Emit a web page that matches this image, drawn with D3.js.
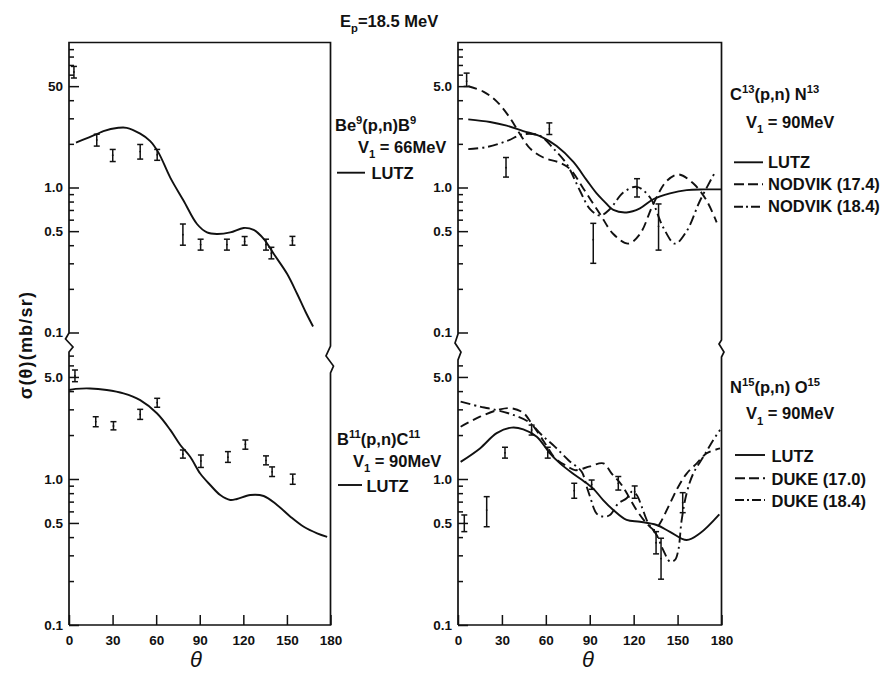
<!DOCTYPE html>
<html><head><meta charset="utf-8">
<script src="https://cdn.jsdelivr.net/npm/d3@7"></script>
<style>
body{margin:0;background:#fff}
svg{display:block}
text{font-family:"Liberation Sans",Arial,sans-serif;font-weight:bold;fill:#111}
</style>
</head><body>
<svg id="c" width="880" height="675"></svg>
<script>
// ---------------- DATA ----------------
const thetaTicks = [0, 30, 60, 90, 120, 150, 180];
const majorTickValues = [5, 1, 0.5, 0.1];
const tlTickLabels = ["50", "1.0", "0.5", "0.1"];
const stdTickLabels = ["5.0", "1.0", "0.5", "0.1"];
const minorTopValues = [0.2,0.3,0.4,0.6,0.7,0.8,0.9,2,3,4,6,7,8,9];
const minorBotLeftValues = [0.2,0.3,0.4,0.6,0.7,0.8,0.9,2,3,4,6,7];
const minorBotRightValues = [0.2,0.3,0.4,0.6,0.7,0.8,0.9,2,3,4,6];

// Be9(p,n)B9 data
const be9Theta = [3.4, 19.1, 30.1, 49, 60.7, 78.4, 90.6, 108.7, 120.9, 135.6, 139.3, 153.8];
const be9Value = [6.26, 2.13, 1.67, 1.77, 1.68, 0.473, 0.404, 0.404, 0.425, 0.404, 0.352, 0.43];
const be9Lo    = [5.69, 1.93, 1.51, 1.57, 1.54, 0.40, 0.37, 0.37, 0.40, 0.37, 0.322, 0.40];
const be9Hi    = [6.84, 2.33, 1.83, 1.98, 1.83, 0.56, 0.44, 0.44, 0.459, 0.44, 0.387, 0.46];
const be9LutzTheta = [4.8, 19.1, 23.7, 34, 39.7, 49, 55.9, 61.6, 69.7, 78.9, 88.1, 95, 101.8, 111, 120.2, 127.1, 134, 140.9, 150.1, 157, 162.8, 168];
const be9LutzValue = [2.04, 2.33, 2.45, 2.58, 2.58, 2.35, 2.09, 1.74, 1.17, 0.81, 0.56, 0.49, 0.478, 0.49, 0.526, 0.51, 0.443, 0.349, 0.254, 0.185, 0.139, 0.11];

// B11(p,n)C11 data
const b11Theta = [4.1, 18.4, 30.6, 49, 60.7, 78.4, 90.8, 109.4, 121.4, 135.6, 139.8, 154];
const b11Value = [5.08, 2.47, 2.31, 2.77, 3.33, 1.48, 1.33, 1.41, 1.73, 1.34, 1.12, 1.0];
const b11Lo    = [4.64, 2.28, 2.17, 2.56, 3.10, 1.39, 1.20, 1.30, 1.60, 1.25, 1.04, 0.92];
const b11Hi    = [5.58, 2.67, 2.47, 3.0, 3.57, 1.58, 1.46, 1.54, 1.85, 1.44, 1.21, 1.08];
const b11LutzTheta = [0, 4.6, 14.5, 26, 37.5, 49, 60.5, 69.7, 76.6, 83.4, 90.3, 97.2, 104.1, 111, 115.6, 124.8, 134, 143.2, 152.4, 161.6, 170.8, 177.7];
const b11LutzValue = [4.07, 4.14, 4.17, 4.07, 3.86, 3.47, 2.82, 2.17, 1.71, 1.42, 1.09, 0.91, 0.777, 0.718, 0.73, 0.777, 0.765, 0.664, 0.552, 0.471, 0.425, 0.402];

// C13(p,n)N13 data
const c13Theta = [5.9, 32.8, 62.4, 92.4, 122.3, 137.0];
const c13Value = [5.41, 1.37, 2.54, 0.436, 0.985, 0.54];
const c13Lo    = [4.98, 1.18, 2.32, 0.30, 0.86, 0.37];
const c13Hi    = [6.15, 1.61, 2.79, 0.566, 1.15, 0.77];
const c13LutzTheta = [7, 21.9, 33.3, 44.6, 56, 67.4, 78.8, 88, 94.7, 100, 106.1, 115.2, 124.3, 133.4, 144.8, 156.2, 167.6, 180];
const c13LutzValue = [2.95, 2.83, 2.67, 2.45, 2.26, 1.93, 1.50, 1.12, 0.91, 0.80, 0.70, 0.673, 0.718, 0.83, 0.91, 0.96, 0.97, 0.97];
const c13Nod174Theta = [7.0, 17.3, 26.4, 35.5, 42.4, 49.2, 58.3, 69.7, 76.5, 85.6, 97.0, 106.1, 116.3, 124.3, 133.4, 142.6, 150.5, 160.8, 169.9, 176.7];
const c13Nod174Value = [4.99, 4.59, 3.93, 3.02, 2.33, 1.86, 1.61, 1.48, 1.34, 0.985, 0.656, 0.478, 0.41, 0.478, 0.77, 1.11, 1.23, 1.065, 0.81, 0.575];
const c13Nod184Theta = [7.0, 19.6, 33.3, 44.6, 56.0, 65.1, 74.3, 83.3, 90.2, 97.0, 103.8, 112.9, 122.1, 131.2, 140.2, 148.2, 156.2, 165.3, 175.5];
const c13Nod184Value = [1.84, 1.90, 2.09, 2.33, 2.27, 1.86, 1.45, 0.95, 0.71, 0.64, 0.71, 0.924, 1.01, 0.853, 0.53, 0.41, 0.50, 0.81, 1.27];

// N15(p,n)O15 data
const n15Theta = [4.3, 19.6, 32.1, 50.3, 61.3, 79.4, 91.3, 109.5, 120.7, 135.3, 138.7, 153.5];
const n15Value = [0.497, 0.613, 1.51, 2.17, 1.51, 0.832, 0.92, 0.934, 0.818, 0.366, 0.285, 0.688];
const n15Lo    = [0.436, 0.471, 1.39, 2.0, 1.39, 0.738, 0.85, 0.84, 0.738, 0.307, 0.206, 0.588];
const n15Hi    = [0.567, 0.757, 1.65, 2.34, 1.65, 0.935, 0.984, 1.04, 0.896, 0.436, 0.393, 0.806];
const n15LutzTheta = [1.8, 15, 26.4, 36.7, 44.6, 53.8, 62.8, 69.7, 78, 87.9, 92.4, 99, 106.1, 115.2, 124.3, 135.7, 144.8, 156.2, 165.3, 178.5];
const n15LutzValue = [1.31, 1.62, 2.06, 2.25, 2.19, 1.95, 1.50, 1.28, 1.10, 0.934, 0.86, 0.72, 0.613, 0.524, 0.51, 0.484, 0.435, 0.382, 0.425, 0.573];
const n15Duke170Theta = [1.8, 15, 28.7, 36.7, 44.6, 50.3, 59.4, 66.3, 75.3, 79.9, 90.2, 99.3, 105, 111.8, 122.1, 128.9, 134.6, 138, 144.8, 150.5, 156.2, 163.1, 169.9, 179];
const n15Duke170Value = [2.28, 2.67, 3.0, 3.05, 2.84, 2.4, 1.76, 1.39, 1.21, 1.15, 1.22, 1.28, 1.09, 0.91, 0.61, 0.497, 0.447, 0.497, 0.68, 0.886, 1.09, 1.28, 1.50, 1.62];
const n15Duke184Theta = [1.8, 15.0, 20.7, 34.4, 48.0, 57.2, 66.3, 75.3, 84.5, 87.9, 90.2, 94.7, 99.3, 103.8, 109.5, 115.2, 118.7, 122.1, 125.5, 130, 135.7, 140.2, 144.8, 148.2, 150.5, 152.8, 156.2, 160.7, 167.6, 174.4, 179];
const n15Duke184Value = [3.39, 3.13, 3.05, 2.82, 2.47, 2.0, 1.66, 1.35, 1.12, 0.886, 0.757, 0.58, 0.552, 0.567, 0.68, 0.738, 0.818, 0.777, 0.646, 0.497, 0.414, 0.326, 0.272, 0.279, 0.326, 0.524, 0.80, 1.09, 1.42, 1.85, 2.17];

// ---------------- LAYOUT ----------------
const svg = d3.select('#c');
const xL = d3.scaleLinear().domain([0,180]).range([69,330.5]);
const xR = d3.scaleLinear().domain([0,180]).range([458,721.5]);
const yTop = d3.scaleLog().domain([0.1,10]).range([332.5,42.5]);
const yBot = d3.scaleLog().domain([0.1,10]).range([625,333]);
const FRAME_TOP = 42.5, FRAME_BOT = 625;

const styles = {
  solid: null,
  dash: "9,5",
  dashdot: "10,4,2,4"
};

function zip(a,b){ return a.map((d,i)=>[d,b[i]]); }

// frames with break marks
function frame(x0, x1, zl, zr){
  const left = [[x0,FRAME_BOT]].concat(zl.slice().reverse().map(p=>[x0+p[1],p[0]])).concat([[x0,FRAME_TOP]]);
  const right = [[x1,FRAME_TOP]].concat(zr.map(p=>[x1+p[1],p[0]])).concat([[x1,FRAME_BOT]]);
  const pts = left.concat(right).concat([[x0,FRAME_BOT]]);
  svg.append('path').attr('d', d3.line()(pts)).attr('fill','none').attr('stroke','#111').attr('stroke-width',1.7).attr('stroke-linejoin','miter');
}
frame(69, 330.5, [[333,0],[339,-3.5],[347,4],[352,0]], [[346,0],[356,-4.5],[366,3],[373,0]]);
frame(458, 721.5, [[334,0],[343,-3],[352,3],[360,0]], [[340,0],[344,-2.5],[352,2.5],[357,0]]);

function styleAxis(g, size){
  g.select('.domain').remove();
  g.selectAll('.tick line').attr('stroke','#111').attr('stroke-width',1.5);
  g.selectAll('text').attr('font-size', size).attr('fill','#111')
    .style('font-family','"Liberation Sans",Arial,sans-serif').style('font-weight','bold');
  g.attr('font-family',null).attr('font-size',null);
}

function yAxes(x0, y, labels, minors){
  const gM = svg.append('g').attr('transform',`translate(${x0},0)`)
    .call(d3.axisLeft(y).tickValues(majorTickValues).tickSize(-10).tickPadding(6).tickFormat((d,i)=>labels[i]));
  styleAxis(gM, 13.5);
  const gm = svg.append('g').attr('transform',`translate(${x0},0)`)
    .call(d3.axisLeft(y).tickValues(minors).tickSize(-5).tickFormat(''));
  styleAxis(gm, 13.5);
}
yAxes(69, yTop, tlTickLabels, minorTopValues);
yAxes(69, yBot, stdTickLabels, minorBotLeftValues);
yAxes(458, yTop, stdTickLabels, minorTopValues);
yAxes(458, yBot, stdTickLabels, minorBotRightValues);

function xAxis(x){
  const g = svg.append('g').attr('transform',`translate(0,${FRAME_BOT})`)
    .call(d3.axisBottom(x).tickValues(thetaTicks).tickSize(-10).tickPadding(10).tickFormat(d3.format('d')));
  styleAxis(g, 13.5);
}
xAxis(xL); xAxis(xR);

// curves & data
function curve(x, y, th, v, st){
  const line = d3.line().x(d=>x(d[0])).y(d=>y(d[1])).curve(d3.curveCatmullRom.alpha(0.5));
  svg.append('path').attr('d', line(zip(th,v))).attr('fill','none')
    .attr('stroke','#111').attr('stroke-width',1.9)
    .attr('stroke-dasharray', styles[st]);
}
function points(x, y, th, v, lo, hi){
  const g = svg.append('g').attr('stroke','#111').attr('stroke-width',1.5);
  th.forEach((t,i)=>{
    const cx = x(t), y1 = y(lo[i]), y2 = y(hi[i]);
    g.append('line').attr('x1',cx).attr('x2',cx).attr('y1',y1).attr('y2',y2);
    g.append('line').attr('x1',cx-3).attr('x2',cx+3).attr('y1',y1).attr('y2',y1);
    g.append('line').attr('x1',cx-3).attr('x2',cx+3).attr('y1',y2).attr('y2',y2);
    g.append('circle').attr('cx',cx).attr('cy',y(v[i])).attr('r',0.9).attr('fill','#111').attr('stroke','none');
  });
}

curve(xL, yTop, be9LutzTheta, be9LutzValue, 'solid');
points(xL, yTop, be9Theta, be9Value, be9Lo, be9Hi);

curve(xL, yBot, b11LutzTheta, b11LutzValue, 'solid');
points(xL, yBot, b11Theta, b11Value, b11Lo, b11Hi);

curve(xR, yTop, c13LutzTheta, c13LutzValue, 'solid');
curve(xR, yTop, c13Nod174Theta, c13Nod174Value, 'dash');
curve(xR, yTop, c13Nod184Theta, c13Nod184Value, 'dashdot');
points(xR, yTop, c13Theta, c13Value, c13Lo, c13Hi);

curve(xR, yBot, n15LutzTheta, n15LutzValue, 'solid');
curve(xR, yBot, n15Duke170Theta, n15Duke170Value, 'dash');
curve(xR, yBot, n15Duke184Theta, n15Duke184Value, 'dashdot');
points(xR, yBot, n15Theta, n15Value, n15Lo, n15Hi);

// ---------------- TEXT ----------------
function rich(x, y, parts, size){
  const t = svg.append('text').attr('x',x).attr('y',y).attr('font-size',size);
  let cur = 0;
  parts.forEach(([s,k])=>{
    const off = k==='sup' ? -0.42*size : (k==='sub' ? 0.32*size : 0);
    const ts = t.append('tspan').text(s).attr('dy', off-cur);
    if(k!=='n') ts.attr('font-size', size*0.68);
    cur = off;
  });
  return t;
}
rich(340, 27, [["E",'n'],["p",'sub'],["=18.5 MeV",'n']], 16.5);

// legends
function legendLine(x0, x1, y, st){
  svg.append('line').attr('x1',x0).attr('x2',x1).attr('y1',y).attr('y2',y)
    .attr('stroke','#111').attr('stroke-width',1.9).attr('stroke-dasharray', st==='dash' ? "10,4" : (st==='dashdot' ? "9,3,2,3" : null));
}
const FS = 16.5;
rich(335, 131, [["Be",'n'],["9",'sup'],["(p,n)B",'n'],["9",'sup']], FS);
rich(358, 153, [["V",'n'],["1",'sub'],[" = 66MeV",'n']], FS);
legendLine(337, 365, 172.7, 'solid');
rich(371.5, 179, [["LUTZ",'n']], FS);

rich(337, 445, [["B",'n'],["11",'sup'],["(p,n)C",'n'],["11",'sup']], FS);
rich(353, 466.7, [["V",'n'],["1",'sub'],[" = 90MeV",'n']], FS);
legendLine(338, 362, 485, 'solid');
rich(366.5, 492.3, [["LUTZ",'n']], FS);

rich(730, 100, [["C",'n'],["13",'sup'],["(p,n) N",'n'],["13",'sup']], FS);
rich(746, 127.7, [["V",'n'],["1",'sub'],[" = 90MeV",'n']], FS);
legendLine(734, 763, 162.3, 'solid');
rich(768, 167.7, [["LUTZ",'n']], FS);
legendLine(734, 763, 184.3, 'dash');
rich(768, 190, [["NODVIK (17.4)",'n']], FS);
legendLine(734, 763, 206.7, 'dashdot');
rich(768, 212.3, [["NODVIK (18.4)",'n']], FS);

rich(730, 393.3, [["N",'n'],["15",'sup'],["(p,n) O",'n'],["15",'sup']], FS);
rich(746, 419.3, [["V",'n'],["1",'sub'],[" = 90MeV",'n']], FS);
legendLine(735, 765, 455, 'solid');
rich(771.5, 461.7, [["LUTZ",'n']], FS);
legendLine(735, 765, 478.3, 'dash');
rich(771.5, 485, [["DUKE (17.0)",'n']], FS);
legendLine(735, 765, 500, 'dashdot');
rich(771.5, 506.7, [["DUKE (18.4)",'n']], FS);

// axis titles
svg.append('text').attr('transform','translate(32,345) rotate(-90)').attr('text-anchor','middle')
  .attr('font-size',18).attr('letter-spacing',1.2).text('σ(θ)(mb/sr)');
svg.append('text').attr('x',196).attr('y',667).attr('text-anchor','middle')
  .attr('font-size',22).style('font-style','italic').style('font-weight','normal').text('θ');
svg.append('text').attr('x',588).attr('y',667).attr('text-anchor','middle')
  .attr('font-size',22).style('font-style','italic').style('font-weight','normal').text('θ');
</script>
</body></html>
